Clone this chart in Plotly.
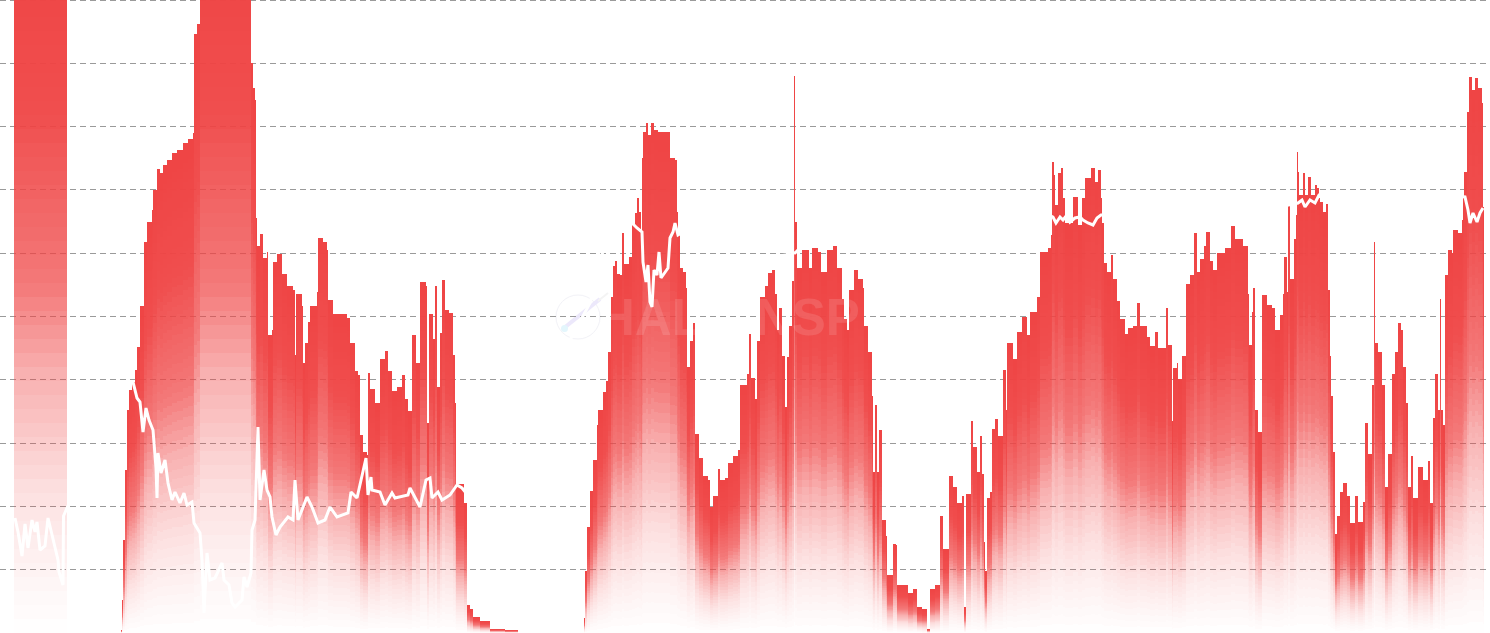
import plotly.graph_objects as go

BAR_X = [14,67,121,122,123,125,127,129,132,135,137,140,144,147,152,153,157,160,163,167,172,177,183,188,193,194,197,200,251,253,255,256,257,260,263,267,268,272,273,277,282,287,293,295,296,302,303,305,308,310,317,318,323,327,328,333,347,350,355,358,360,363,367,368,370,375,380,385,388,392,397,402,405,408,412,416,420,426,427,429,433,435,437,440,442,445,449,453,455,456,460,464,467,470,473,480,490,505,518,
584,585,587,590,593,597,598,603,606,608,611,613,615,617,620,622,624,626,629,632,635,637,639,641,642,643,646,648,651,654,658,669,670,675,677,678,680,683,686,687,690,693,695,699,703,708,710,713,718,720,725,728,733,738,740,747,749,751,755,757,760,765,768,772,775,777,779,782,785,787,789,792,794,795,797,802,809,812,818,821,827,833,837,842,844,847,849,854,858,863,864,868,872,873,875,877,879,882,886,887,893,896,897,903,908,913,917,922,927,930,935,940,943,949,953,957,962,964,966,971,973,977,
980,982,984,985,987,990,992,995,998,1003,1006,1007,1012,1013,1017,1022,1027,1030,1037,1040,1048,1051,1052,1054,1055,1058,1061,1063,1065,1073,1078,1082,1085,1091,1095,1098,1101,1102,1104,1107,1111,1113,1117,1120,1125,1128,1133,1137,1140,1147,1150,1155,1158,1166,1168,1172,1173,1177,1178,1182,1186,1190,1194,1197,1200,1204,1206,1210,1213,1217,1225,1231,1235,1243,1247,1248,1249,1252,1253,1255,1258,1262,1267,1272,1275,1280,1283,1284,1287,1288,1290,1292,1294,1296,1297,1298,1299,1303,1305,1308,1311,1315,1317,1319,1320,1323,1326,1328,1330,1331,1333,1335,1337,1340,1343,1347,1350,1355,1358,1363,1365,1368,1372,1374,1375,1378,1382,1385,1388,1392,1395,1398,1401,1403,1406,1408,1411,1413,1418,1423,1428,1430,1433,1435,1438,1440,1441,1443,1445,1448,1452,1453,1458,1462,1463,1464,1467,1469,1472,1475,1478,1482,1483,1484]

BAR_VALUES = [700,0,3,33,93,163,223,243,251,263,286,327,391,411,423,443,464,460,468,473,480,483,490,494,500,599,609,700,570,545,533,415,387,399,375,381,298,303,371,379,359,347,343,278,339,327,270,290,311,327,341,395,391,383,333,319,315,290,262,258,198,181,178,260,244,230,274,282,262,242,246,258,234,222,298,270,351,347,210,319,294,347,246,300,353,323,320,278,230,149,149,130,28,24,16,12,4,3,0,
15,62,106,142,173,208,223,241,252,281,336,367,372,359,358,400,369,369,376,408,420,435,421,401,475,501,510,498,510,503,501,501,475,473,421,398,365,361,345,266,292,310,199,175,157,153,126,137,164,153,155,170,177,183,248,259,299,255,234,292,336,347,360,363,339,303,325,277,226,276,307,352,557,411,365,383,365,385,381,361,383,387,365,334,314,303,343,363,354,345,307,281,237,161,228,161,203,113,97,58,89,88,48,48,40,44,26,24,4,44,48,117,84,157,146,130,137,26,139,212,186,161,
197,159,91,62,135,141,204,214,197,263,223,290,290,274,301,316,298,321,336,381,385,398,471,458,428,460,465,435,410,436,408,435,455,465,451,463,435,410,370,361,378,354,332,314,299,305,307,330,307,296,287,301,285,325,288,212,265,270,254,277,349,358,400,361,374,387,401,372,363,380,385,407,394,387,387,339,288,321,345,223,201,338,328,325,303,318,339,376,341,427,354,354,394,418,481,461,438,460,438,456,438,448,445,435,431,421,429,343,277,237,181,99,117,141,150,137,110,137,111,131,210,179,248,391,290,281,248,146,179,259,281,310,303,266,230,146,177,135,166,153,172,130,215,259,223,334,223,208,358,383,380,403,400,413,436,461,521,556,543,555,545,530,426,0]

LINE_X = [15,18,22,25,28,32,35,37,40,45,48,53,58,59,63,63.5,67,130,133,137,140,143,146,149,153,156,157,158,161,165,168,172,175,180,184,187,192,194,200,202,204,207,210,215,222,224,229,232,235,242,244,247,251,252,255,258,260,264,267,270,272,276,280,288,293,295,298,307,312,318,325,330,337,348,351,357,361,366,368,371,372,380,385,392,395,408,410,420,426,430,432,438,442,450,457,462,466,520,590,605,615,631,637,642,643,646,648,650,652,654,657,659,661,668,670,673,675,678,690,750,795,800,830,900,1000,1045,1053,1056,1060,1063,1067,1070,1075,1080,1083,1088,1093,1097,1101,1180,1250,1298,1302,1305,1310,1315,1319,1400,1455,1465,1468,1470,1473,1477,1480,1483]

LINE_VALUES = [115,101,77,109,85,113,101,111,83,87,115,93,73,61,48,117,125,250,251,235,231,201,225,213,203,165,135,180,160,173,150,133,141,130,140,128,131,110,100,73,20,80,53,55,70,53,48,30,26,33,56,46,60,103,113,206,133,163,143,136,116,98,106,116,113,153,113,136,126,110,113,126,116,120,141,135,153,175,138,156,143,141,128,140,135,138,145,126,153,155,135,141,133,138,148,145,140,200,330,390,410,411,405,401,371,351,368,331,326,363,358,381,355,365,395,401,410,398,405,385,380,385,400,420,420,420,416,410,416,413,418,411,415,416,413,410,408,415,418,420,420,430,433,426,433,430,438,430,437,436,423,410,420,411,420,425]

GRID_STEP = 63.3
GRID_COUNT = 10
RED = "239,68,68"
LAYERS = 50
ALPHA_STOPS = [(0.0, 0.0), (0.05, 0.03), (0.2, 0.16), (0.37, 0.42), (0.5, 0.72), (0.75, 0.95), (1.0, 1.0)]


def alpha_at(f):
    for (f0, a0), (f1, a1) in zip(ALPHA_STOPS, ALPHA_STOPS[1:]):
        if f <= f1:
            return a0 + (a1 - a0) * (f - f0) / (f1 - f0)
    return 1.0


centers = [(a + b) / 2 for a, b in zip(BAR_X, BAR_X[1:])]
widths = [b - a for a, b in zip(BAR_X, BAR_X[1:])]
heights = BAR_VALUES[:len(centers)]

fig = go.Figure()
for k in range(LAYERS):
    f = (k + 0.5) / LAYERS
    fig.add_trace(go.Bar(
        x=centers,
        y=[h / LAYERS for h in heights],
        width=widths,
        marker=dict(color=f"rgba({RED},{alpha_at(f):.3f})", line=dict(width=0)),
        hoverinfo="skip",
        showlegend=False,
    ))

fig.add_trace(go.Scatter(
    x=LINE_X, y=LINE_VALUES, mode="lines",
    line=dict(color="#ffffff", width=3),
    hoverinfo="skip", showlegend=False,
))

watermark_font = dict(family="Liberation Sans", size=51, color="rgba(255,255,255,0.12)")
fig.update_layout(
    width=1490, height=633,
    margin=dict(l=0, r=4, t=0, b=0),
    paper_bgcolor="#ffffff", plot_bgcolor="#ffffff",
    barmode="stack", bargap=0,
    showlegend=False,
    xaxis=dict(range=[0, 1486], showgrid=False, zeroline=False,
               showticklabels=False, ticks="", showline=False),
    yaxis=dict(range=[0, 633], tickvals=[GRID_STEP * i for i in range(1, GRID_COUNT)],
               showgrid=True, gridcolor="#9a9a9a", gridwidth=1, griddash="6px,4px",
               zeroline=False, showticklabels=False, ticks="", showline=False),
    shapes=[
        dict(type="line", layer="below", xref="x", yref="y", x0=0, x1=1486, y0=632.5, y1=632.5,
             line=dict(color="#9a9a9a", width=1, dash="6px,4px")),
        dict(type="circle", layer="below", xref="x", yref="y", x0=556, x1=600, y0=294, y1=338,
             line=dict(color="#f2f2f7", width=1)),
        dict(type="line", layer="below", xref="x", yref="y", x0=564, y0=305, x1=600, y1=334,
             line=dict(color="#ece8fb", width=4)),
        dict(type="line", layer="below", xref="x", yref="y", x0=598, y0=332, x1=608, y1=340,
             line=dict(color="#f4f4f4", width=2)),
        dict(type="circle", layer="below", xref="x", yref="y", x0=561, x1=568, y0=301, y1=308,
             fillcolor="#e3f6fc", line=dict(width=0)),
    ],
    annotations=[
        dict(text="<b>HAL</b>", xref="x", yref="y", x=596, y=316, xanchor="left", yanchor="middle",
             showarrow=False, font=watermark_font),
        dict(text="<b>NSP</b>", xref="x", yref="y", x=862, y=316, xanchor="right", yanchor="middle",
             showarrow=False, font=watermark_font),
    ],
)

fig.write_html("out.html", config={"displayModeBar": False},
               post_script="document.body.style.margin='0';document.body.style.overflow='hidden';")
